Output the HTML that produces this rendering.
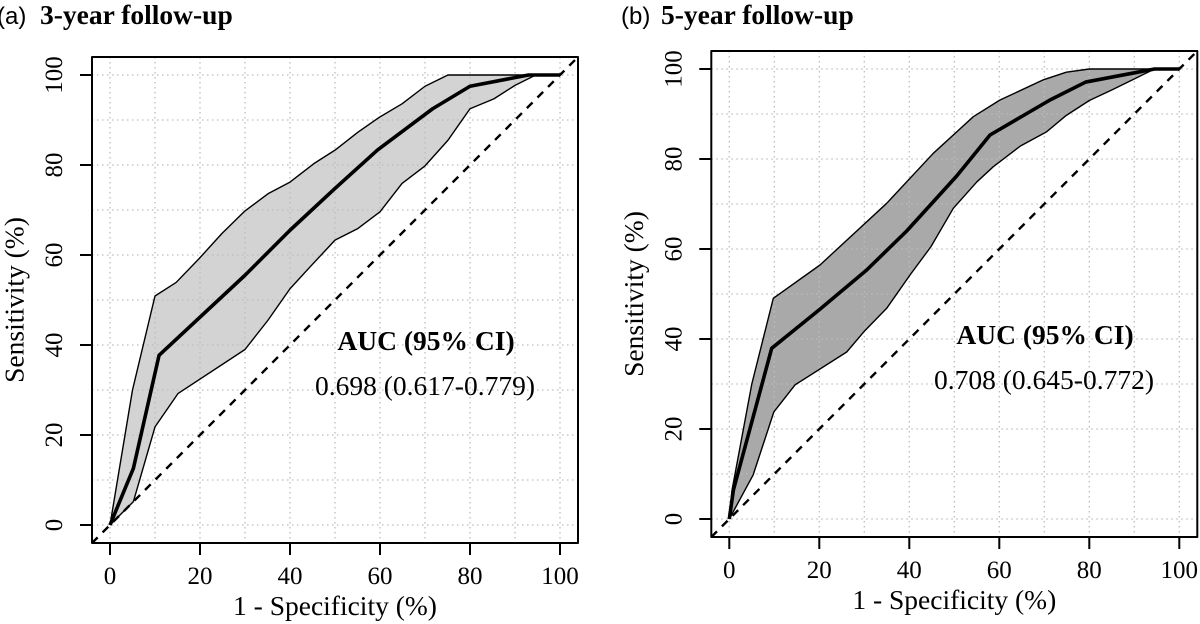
<!DOCTYPE html>
<html><head><meta charset="utf-8"><style>
html,body{margin:0;padding:0;background:#fff;}
svg{display:block;}
.serif{font-family:"Liberation Serif","Times New Roman",serif;}
.sans{font-family:"Liberation Sans",Arial,sans-serif;}
</style></head><body>
<svg width="1200" height="624" viewBox="0 0 1200 624" xmlns="http://www.w3.org/2000/svg">
<rect width="1200" height="624" fill="#fff"/>

<!-- ===== Panel A ===== -->
<text x="-3" y="24" class="sans" font-size="24" fill="#000">(a)</text>
<text x="40" y="24" class="serif" font-size="27.5" font-weight="bold" fill="#000">3-year follow-up</text>

<polygon fill="#d3d3d3" stroke="none" points="110,525 132.5,390 155,296 176.15,282.45 199.1,258.6 222.05,233.4 245,210.9 267.95,193.8 290,182.1 313.85,163.65 335,150.15 357.95,132.15 380,116.85 402.05,103.8 425,86.25 447.95,75 560,75 535.7,75 515,85.35 493.85,98.85 470,108.75 447.95,140.25 425,165.9 402.05,183.45 380,211.8 357.95,228.45 335,240.15 310.25,266.7 290,288.75 267.95,320.25 245,349.5 177.95,393.6 155,426.9 133.4,501.6 110,525"/>

<g stroke="#bdbdbd" stroke-width="1.3" stroke-dasharray="1.5 3.5" fill="none">
<path d="M110 57V543M155 57V543M200 57V543M245 57V543M290 57V543M335 57V543M380 57V543M425 57V543M470 57V543M515 57V543M560 57V543"/>
<path d="M92 525H578M92 480H578M92 435H578M92 390H578M92 345H578M92 300H578M92 255H578M92 210H578M92 165H578M92 120H578M92 75H578"/>
</g>

<g fill="none" stroke="#000" stroke-linejoin="round">
<polyline stroke-width="1.4" points="110,525 132.5,390 155,296 176.15,282.45 199.1,258.6 222.05,233.4 245,210.9 267.95,193.8 290,182.1 313.85,163.65 335,150.15 357.95,132.15 380,116.85 402.05,103.8 425,86.25 447.95,75 560,75"/>
<polyline stroke-width="1.4" points="560,75 535.7,75 515,85.35 493.85,98.85 470,108.75 447.95,140.25 425,165.9 402.05,183.45 380,211.8 357.95,228.45 335,240.15 310.25,266.7 290,288.75 267.95,320.25 245,349.5 177.95,393.6 155,426.9 133.4,501.6 110,525"/>
<polyline stroke-width="3.6" points="110,525 133.4,468.3 159.05,355.35 245,275.25 290,230.25 335,188.4 377.3,150.15 432.65,108.75 470,86.25 528.5,75 560,75"/>
<line x1="92" y1="543" x2="578" y2="57" stroke-width="2.4" stroke-dasharray="8 7"/>
<rect x="92" y="57" width="486" height="486" stroke-width="2"/>
<path stroke-width="2" d="M110 543v12M200 543v12M290 543v12M380 543v12M470 543v12M560 543v12"/>
<path stroke-width="2" d="M92 525h-12M92 435h-12M92 345h-12M92 255h-12M92 165h-12M92 75h-12"/>
</g>

<g class="serif" font-size="25" fill="#000" text-anchor="middle">
<text x="110" y="584">0</text><text x="200" y="584">20</text><text x="290" y="584">40</text>
<text x="380" y="584">60</text><text x="470" y="584">80</text><text x="560" y="584">100</text>
<text transform="translate(62,525) rotate(-90)">0</text>
<text transform="translate(62,435) rotate(-90)">20</text>
<text transform="translate(62,345) rotate(-90)">40</text>
<text transform="translate(62,255) rotate(-90)">60</text>
<text transform="translate(62,165) rotate(-90)">80</text>
<text transform="translate(62,75) rotate(-90)">100</text>
</g>
<g class="serif" font-size="27.5" fill="#000" text-anchor="middle">
<text x="335" y="615">1 - Specificity (%)</text>
<text transform="translate(23.5,300) rotate(-90)">Sensitivity (%)</text>
<text x="426" y="350" font-weight="bold">AUC (95% CI)</text>
<text x="425" y="395">0.698 (0.617-0.779)</text>
</g>

<!-- ===== Panel B ===== -->
<text x="621" y="24" class="sans" font-size="24" fill="#000">(b)</text>
<text x="661" y="24" class="serif" font-size="27.5" font-weight="bold" fill="#000">5-year follow-up</text>

<polygon fill="#a9a9a9" stroke="none" points="729.3,519 732,490.2 751.8,384 773.3,298.3 820,265 886.7,203.3 933.3,153.3 973.3,116.7 1000,100 1043.4,79.8 1066.35,72.15 1089.3,69 1179.3,69 1154.55,69 1135.2,78.45 1112.25,89.7 1089.3,100.5 1066.35,115.35 1046.7,131.7 1020.45,146 993.3,166.7 976.8,181.95 953.3,208.3 930.9,246.75 910,275 886.7,308.3 863.85,331.8 846.7,352 795,384.9 773.85,411.9 753.15,474.9 729.3,519"/>

<g stroke="#bdbdbd" stroke-width="1.3" stroke-dasharray="1.5 3.5" fill="none">
<path d="M729.3 51V537M774.3 51V537M819.3 51V537M864.3 51V537M909.3 51V537M954.3 51V537M999.3 51V537M1044.3 51V537M1089.3 51V537M1134.3 51V537M1179.3 51V537"/>
<path d="M711.3 519H1197.3M711.3 474H1197.3M711.3 429H1197.3M711.3 384H1197.3M711.3 339H1197.3M711.3 294H1197.3M711.3 249H1197.3M711.3 204H1197.3M711.3 159H1197.3M711.3 114H1197.3M711.3 69H1197.3"/>
</g>

<g fill="none" stroke="#000" stroke-linejoin="round">
<polyline stroke-width="1.4" points="729.3,519 732,490.2 751.8,384 773.3,298.3 820,265 886.7,203.3 933.3,153.3 973.3,116.7 1000,100 1043.4,79.8 1066.35,72.15 1089.3,69 1179.3,69"/>
<polyline stroke-width="1.4" points="1179.3,69 1154.55,69 1135.2,78.45 1112.25,89.7 1089.3,100.5 1066.35,115.35 1046.7,131.7 1020.45,146 993.3,166.7 976.8,181.95 953.3,208.3 930.9,246.75 910,275 886.7,308.3 863.85,331.8 846.7,352 795,384.9 773.85,411.9 753.15,474.9 729.3,519"/>
<polyline stroke-width="3.6" points="729.3,519 733.35,490.2 771.7,348.3 819.3,309.75 866.7,270 906.7,231 956.7,176 990,135 1050,100 1085.7,82.05 1154.55,69 1179.3,69"/>
<line x1="711.3" y1="537" x2="1197.3" y2="51" stroke-width="2.4" stroke-dasharray="8 7"/>
<rect x="711.3" y="51" width="486" height="486" stroke-width="2"/>
<path stroke-width="2" d="M729.3 537v12M819.3 537v12M909.3 537v12M999.3 537v12M1089.3 537v12M1179.3 537v12"/>
<path stroke-width="2" d="M711.3 519h-12M711.3 429h-12M711.3 339h-12M711.3 249h-12M711.3 159h-12M711.3 69h-12"/>
</g>

<g class="serif" font-size="25" fill="#000" text-anchor="middle">
<text x="729.3" y="578">0</text><text x="819.3" y="578">20</text><text x="909.3" y="578">40</text>
<text x="999.3" y="578">60</text><text x="1089.3" y="578">80</text><text x="1179.3" y="578">100</text>
<text transform="translate(681.3,519) rotate(-90)">0</text>
<text transform="translate(681.3,429) rotate(-90)">20</text>
<text transform="translate(681.3,339) rotate(-90)">40</text>
<text transform="translate(681.3,249) rotate(-90)">60</text>
<text transform="translate(681.3,159) rotate(-90)">80</text>
<text transform="translate(681.3,69) rotate(-90)">100</text>
</g>
<g class="serif" font-size="27.5" fill="#000" text-anchor="middle">
<text x="954.3" y="609">1 - Specificity (%)</text>
<text transform="translate(642.8,294) rotate(-90)">Sensitivity (%)</text>
<text x="1045" y="344" font-weight="bold">AUC (95% CI)</text>
<text x="1044" y="389">0.708 (0.645-0.772)</text>
</g>
</svg>
</body></html>
